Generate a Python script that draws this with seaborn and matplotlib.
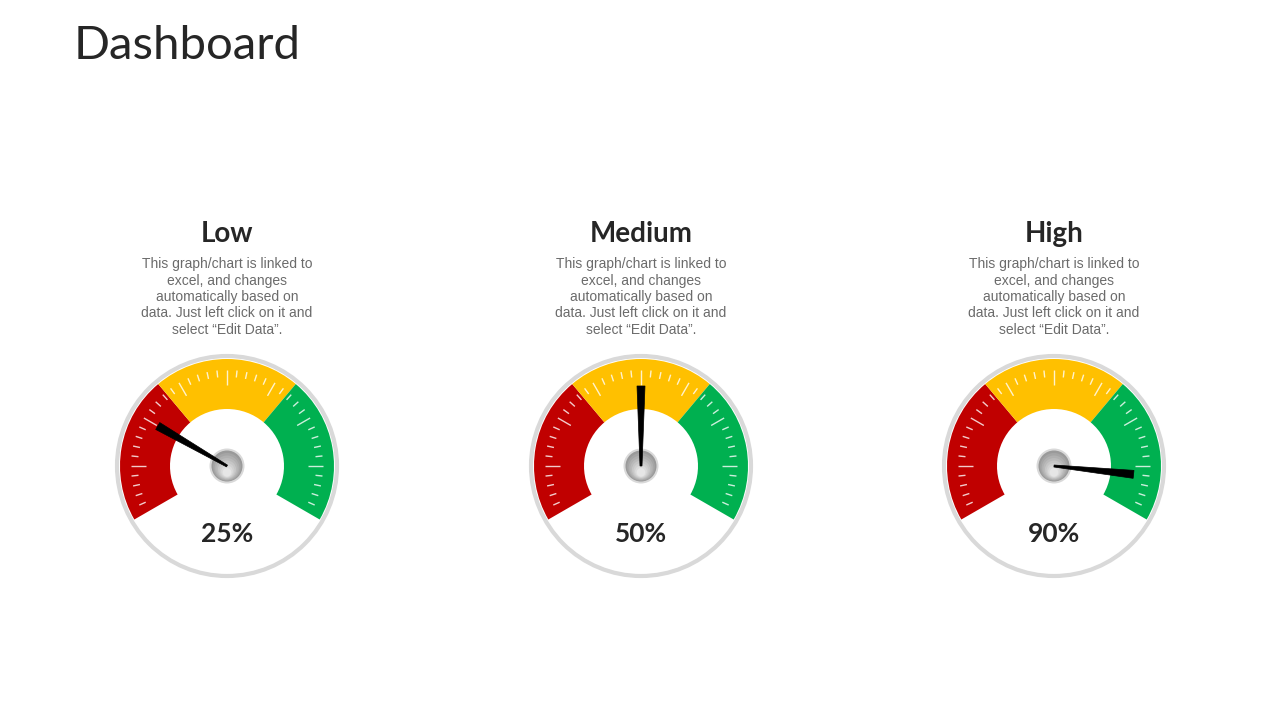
import numpy as np
import seaborn as sns
import matplotlib.pyplot as plt
from matplotlib.patches import Wedge, Circle, Polygon

# gauge data
gauge_titles = ["Low", "Medium", "High"]
gauge_values = [25, 50, 90]
band_limits = [0, 100 / 3, 200 / 3, 100]
band_colors = ["#C00000", "#FFC000", "#00B050"]
description = ("This graph/chart is linked to\nexcel, and changes\nautomatically based on\n"
               "data. Just left click on it and\nselect \u201cEdit Data\u201d.")

sns.set_theme(style="white")
plt.rcParams['font.family'] = ['Lato', 'DejaVu Sans']

W, H = 1280, 720
fig = plt.figure(figsize=(12.8, 7.2), dpi=100)
ax = fig.add_axes([0, 0, 1, 1])
ax.set_xlim(0, W)
ax.set_ylim(0, H)
ax.axis('off')

START, SPAN = 210.0, 240.0   # gauge sweep in degrees
R_RING, R_OUT, R_IN = 110, 107, 57


def value_to_angle(v):
    return START - SPAN * v / 100.0


def draw_gauge(cx, cy, title, value):
    # outer ring
    ax.add_patch(Circle((cx, cy), R_RING, facecolor='white', edgecolor='#d9d9d9', lw=3, zorder=1))

    # colour bands
    for lo, hi, col in zip(band_limits[:-1], band_limits[1:], band_colors):
        ax.add_patch(Wedge((cx, cy), R_OUT, value_to_angle(hi), value_to_angle(lo),
                           width=R_OUT - R_IN, facecolor=col, edgecolor='none', zorder=2))

    # tick marks
    for i in range(1, 40):
        a = np.radians(value_to_angle(i * 100 / 40))
        r1 = 96
        r2 = 81 if i % 5 == 0 else 89
        ax.plot([cx + r1 * np.cos(a), cx + r2 * np.cos(a)],
                [cy + r1 * np.sin(a), cy + r2 * np.sin(a)],
                color='white', lw=1.0, alpha=0.8, zorder=3, solid_capstyle='butt')

    # needle
    a = np.radians(value_to_angle(value))
    ux, uy = np.cos(a), np.sin(a)
    px, py = -uy, ux
    tip = 80
    needle = [(cx + 1 * px, cy + 1 * py), (cx - 1 * px, cy - 1 * py),
              (cx + tip * ux - 4 * px, cy + tip * uy - 4 * py),
              (cx + tip * ux + 4 * px, cy + tip * uy + 4 * py)]

    # hub with a soft gradient
    ax.add_patch(Circle((cx, cy), 17.5, facecolor='#d9d9d9', edgecolor='none', zorder=4))
    shades = sns.blend_palette(["#9a9a9a", "#e6e6e6"], 8)
    for k, c in enumerate(shades):
        r = 15.5 - k * 1.6
        ax.add_patch(Circle((cx, cy - k * 0.9), r, facecolor=c, edgecolor='none', zorder=4))
    ax.add_patch(Polygon(needle, closed=True, facecolor='black', edgecolor='black', lw=0.5, zorder=5))

    # labels
    ax.text(cx, H - 234, title, ha='center', va='center', fontsize=20, fontweight='bold', color='#262626')
    ax.text(cx, H - 297, description, ha='center', va='center', fontsize=10, color='#6b6b6b',
            linespacing=1.22, family=['Liberation Sans', 'DejaVu Sans'])
    ax.text(cx, cy - 68, f"{value}%", ha='center', va='center', fontsize=19, fontweight='bold',
            color='#262626')


centers_x = [227, 641, 1054]
for cx, t, v in zip(centers_x, gauge_titles, gauge_values):
    draw_gauge(cx, H - 466, t, v)

ax.text(74, H - 46, "Dashboard", ha='left', va='center', fontsize=34, fontweight='normal', color='#262626')

fig.savefig('out.png', dpi=100, facecolor='white')
